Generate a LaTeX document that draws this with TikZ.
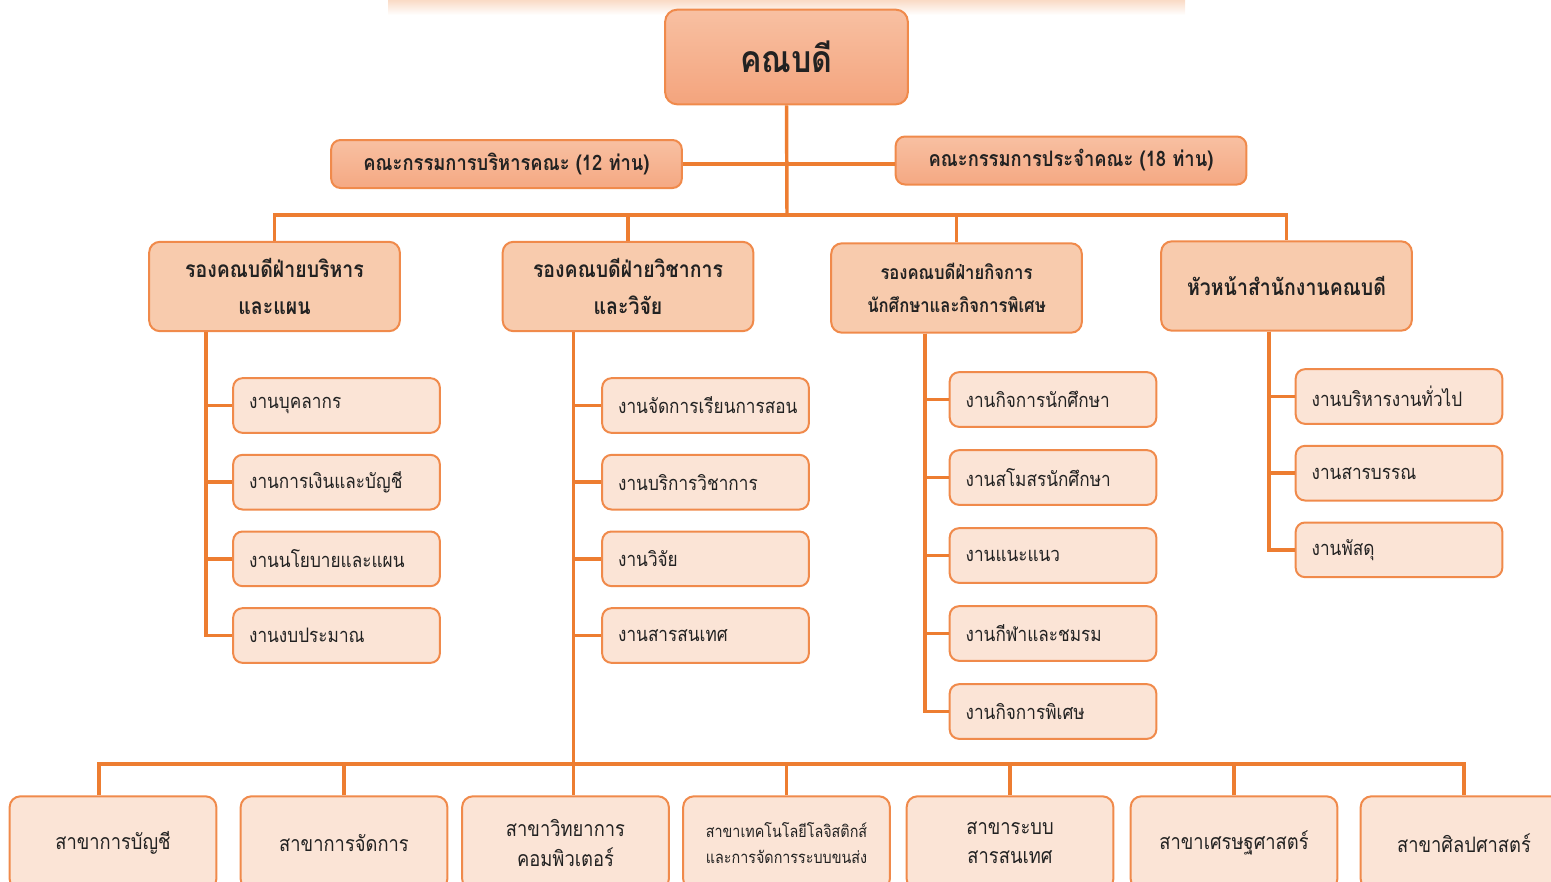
\documentclass[tikz,border=0pt]{standalone}
\usepackage{fontspec}
\newfontfamily\thaifont[Script=Thai, FakeStretch=0.86]{Loma}
\usetikzlibrary{positioning}
\definecolor{linecol}{HTML}{ED7D31}
\definecolor{edgecol}{HTML}{F08A4B}
\definecolor{deantop}{HTML}{F8C0A2}
\definecolor{deanbot}{HTML}{F4A47D}
\definecolor{headfill}{HTML}{F8CBAD}
\definecolor{taskfill}{HTML}{FBE4D6}
\definecolor{txtcol}{HTML}{222222}
\tikzset{
x=0.75pt, y=-0.75pt, % one unit is one pixel of the reference
conn/.style={draw=linecol, line width=2.6pt}, % the orange connector lines
box/.style={draw=edgecol, line width=1.5pt, rounded corners=7pt, align=center, text=txtcol, font=\thaifont},
dean/.style={box, rounded corners=9pt, top color=deantop, bottom color=deanbot, minimum width=182pt, minimum height=71pt, font=\thaifont\bfseries\fontsize{28}{32}\selectfont},
board/.style={box, top color=deantop, bottom color=deanbot!85!deantop, minimum width=263pt, minimum height=36pt, font=\thaifont\bfseries\fontsize{16}{19}\selectfont},
head/.style={box, rounded corners=8pt, fill=headfill, minimum width=188pt, minimum height=67pt, font=\thaifont\bfseries\fontsize{17}{28}\selectfont},
task/.style={box, fill=taskfill, text width=131pt, inner xsep=12pt, minimum height=41pt, align=left, font=\thaifont\fontsize{15}{18}\selectfont},
major/.style={box, rounded corners=8pt, fill=taskfill, minimum width=155pt, minimum height=70pt, font=\thaifont\fontsize{16}{22}\selectfont},
}

\begin{document}
\begin{tikzpicture}
        \clip (0,0) rectangle (1551,881);
        \shade[top color=headfill!70, bottom color=white] (388,0) rectangle (1185,15);

        % top of the chart
        \node[dean] (dean) at (786.5,57) {คณบดี};
        \node[board] (exec) at (506.5,164) {คณะกรรมการบริหารคณะ (12 ท่าน)};
        \node[board] (fac) at (1071,160.5) {คณะกรรมการประจำคณะ (18 ท่าน)};
        \coordinate (bus) at (787,215);

        % deputy deans and office head
        \node[head] (h1) at (274.5,286.5) {รองคณบดีฝ่ายบริหาร\\และแผน};
        \node[head] (h2) at (628,286.5) {รองคณบดีฝ่ายวิชาการ\\และวิจัย};
        \node[head, font=\thaifont\bfseries\fontsize{14.5}{25}\selectfont] (h3) at (956.5,288) {รองคณบดีฝ่ายกิจการ\\นักศึกษาและกิจการพิเศษ};
        \node[head] (h4) at (1286.5,286) {หัวหน้าสำนักงานคณบดี};

        % work units
        \node[task] (a1) at (336.5,405.5) {งานบุคลากร};
        \node[task, below=15pt of a1] (a2) {งานการเงินและบัญชี};
        \node[task, below=15pt of a2] (a3) {งานนโยบายและแผน};
        \node[task, below=15pt of a3] (a4) {งานงบประมาณ};

        \node[task] (b1) at (705.5,405.5) {งานจัดการเรียนการสอน};
        \node[task, below=15pt of b1] (b2) {งานบริการวิชาการ};
        \node[task, below=15pt of b2] (b3) {งานวิจัย};
        \node[task, below=15pt of b3] (b4) {งานสารสนเทศ};

        \node[task] (c1) at (1053,399.5) {งานกิจการนักศึกษา};
        \node[task, below=16pt of c1] (c2) {งานสโมสรนักศึกษา};
        \node[task, below=16pt of c2] (c3) {งานแนะแนว};
        \node[task, below=16pt of c3] (c4) {งานกีฬาและชมรม};
        \node[task, below=16pt of c4] (c5) {งานกิจการพิเศษ};

        \node[task] (d1) at (1399,396.5) {งานบริหารงานทั่วไป};
        \node[task, below=15pt of d1] (d2) {งานสารบรรณ};
        \node[task, below=15pt of d2] (d3) {งานพัสดุ};

        % majors
        \node[major] (m1) at (113,843) {สาขาการบัญชี};
        \node[major] (m2) at (344,843) {สาขาการจัดการ};
        \node[major] (m3) at (565.5,843) {สาขาวิทยาการ\\คอมพิวเตอร์};
        \node[major, font=\thaifont\fontsize{12.5}{19}\selectfont] (m4) at (786.5,843) {สาขาเทคโนโลยีโลจิสติกส์\\และการจัดการระบบขนส่ง};
        \node[major] (m5) at (1010,843) {สาขาระบบ\\สารสนเทศ};
        \node[major] (m6) at (1234,843) {สาขาเศรษฐศาสตร์};
        \node[major] (m7) at (1464,843) {สาขาศิลปศาสตร์};
        \coordinate (bbus) at (575,764);

        \draw[conn] (dean.south) -- (bus);
        \draw[conn] (exec.east) -- (exec.east -| fac.west);
        \draw[conn] (h1.north) |- (bus) -| (h4.north);
        \draw[conn] (h2.north) -- (h2.north |- bus)
                    (h3.north) -- (h3.north |- bus);

        \foreach \k in {a1,a2,a3,a4} \draw[conn] (h1.south west) ++(58,0) |- (\k.west);
        \draw[conn] (h2.south west) ++(72,0) coordinate (s2) -- (s2 |- m3.north);
        \foreach \k in {b1,b2,b3,b4} \draw[conn] (s2) |- (\k.west);
        \foreach \k in {c1,c2,c3,c4,c5} \draw[conn] (h3.south west) ++(95,0) |- (\k.west);
        \foreach \k in {d1,d2,d3} \draw[conn] (h4.south west) ++(109,0) |- (\k.west);

        \draw[conn] (m1.north) ++(-14,0) |- (bbus) -| (m7.north);
        \foreach \k in {m2,m4,m5,m6} \draw[conn] (\k.north) -- (\k.north |- bbus);
  \end{tikzpicture}
\end{document}
